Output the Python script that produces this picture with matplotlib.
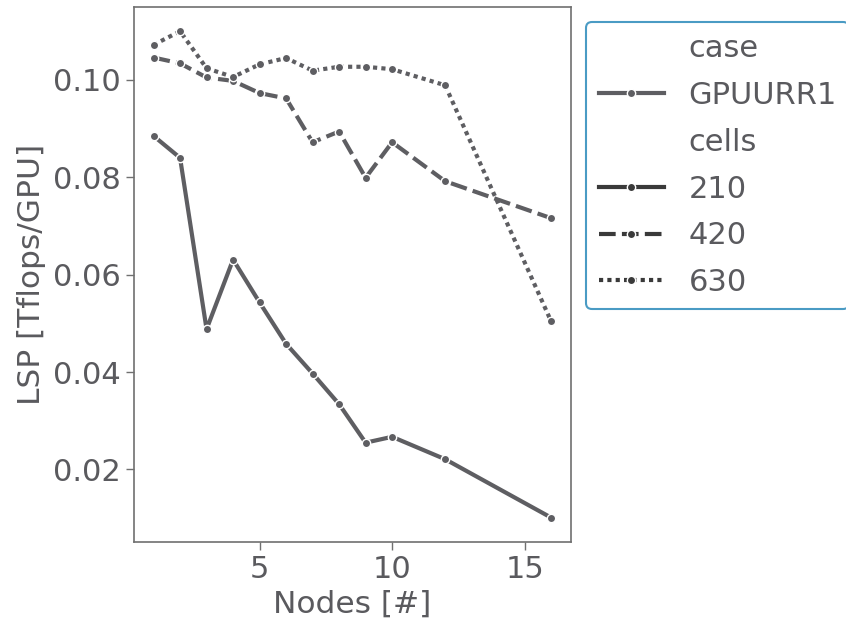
import matplotlib
matplotlib.use("Agg")
import matplotlib.pyplot as plt
from matplotlib.lines import Line2D

# Nodes on the x axis, LSP per GPU for each cell count
nodes = [1, 2, 3, 4, 5, 6, 7, 8, 9, 10, 12, 16]
lsp_210 = [0.0885, 0.0840, 0.0488, 0.0631, 0.0543, 0.0458, 0.0397, 0.0334,
           0.0255, 0.0267, 0.0221, 0.0101]
lsp_420 = [0.1046, 0.1034, 0.1005, 0.0998, 0.0973, 0.0962, 0.0872, 0.0894,
           0.0799, 0.0872, 0.0792, 0.0716]
lsp_630 = [0.1072, 0.1100, 0.1024, 0.1006, 0.1032, 0.1045, 0.1019, 0.1027,
           0.1027, 0.1022, 0.0989, 0.0504]
cells = ["210", "420", "630"]
case_name = "GPUURR1"

line_color = "#5e5e62"
text_color = "#5a5a5e"
handle_dark = "#3a3a3a"
dash_styles = [None, (4, 1.5), (1, 1)]
fs = 22

plt.rcParams["font.family"] = "DejaVu Sans"
plt.rcParams["font.size"] = fs
plt.rcParams["text.color"] = text_color
plt.rcParams["axes.labelcolor"] = text_color
plt.rcParams["xtick.color"] = text_color
plt.rcParams["ytick.color"] = text_color

fig = plt.figure(figsize=(8.46, 6.28), dpi=100)
ax = fig.add_axes([0.158, 0.137, 0.517, 0.852])

for vals, dash in zip([lsp_210, lsp_420, lsp_630], dash_styles):
    ln, = ax.plot(nodes, vals, color=line_color, lw=3, marker="o", ms=6,
                  mec="white", mew=1)
    if dash is not None:
        ln.set_dashes(dash)

for s in ax.spines.values():
    s.set_color("#707070")
    s.set_linewidth(1.2)
ax.tick_params(labelsize=fs, length=6, width=1, colors="#707070",
               labelcolor=text_color)
ax.set_xticks([5, 10, 15])
ax.set_yticks([0.02, 0.04, 0.06, 0.08, 0.10])
ax.set_yticklabels(["0.02", "0.04", "0.06", "0.08", "0.10"])
ax.set_xlabel("Nodes [#]", fontsize=fs + 0.5)
ax.set_ylabel("LSP [Tflops/GPU]", fontsize=fs + 0.5, labelpad=5)

# legend with section titles like seaborn's hue/style legend
handles = [Line2D([], [], color="none"),
           Line2D([], [], color=line_color, lw=3, marker="o", ms=6, mec="white", mew=1),
           Line2D([], [], color="none")]
labels = ["case", case_name, "cells"]
for c, dash in zip(cells, dash_styles):
    h = Line2D([], [], color=handle_dark, lw=3, marker="o", ms=6, mec="white", mew=1)
    if dash is not None:
        h.set_dashes(dash)
    handles.append(h)
    labels.append(c)

leg = ax.legend(handles, labels, loc="upper left", bbox_to_anchor=(1, 1),
                fontsize=fs, frameon=True, fancybox=True, handlelength=2.15,
                labelspacing=0.58)
leg.get_frame().set_edgecolor("#4a9bc4")
leg.get_frame().set_linewidth(1.5)
leg.get_frame().set_alpha(1)

fig.savefig("out.png", dpi=100)
